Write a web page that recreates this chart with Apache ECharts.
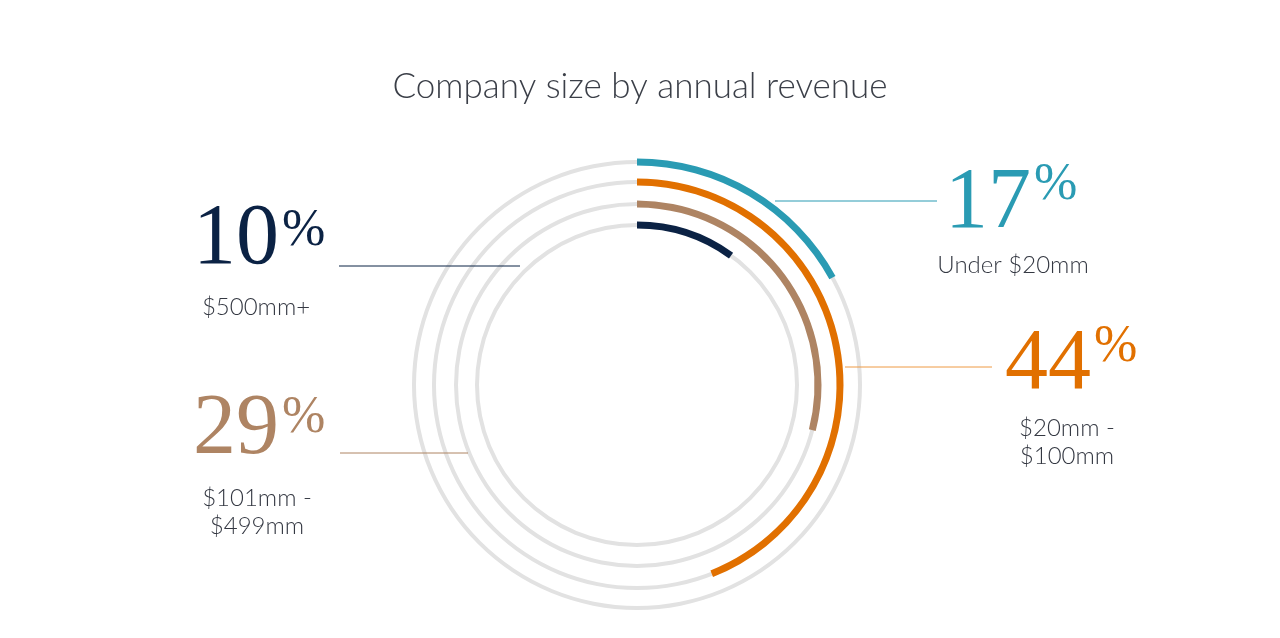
<!DOCTYPE html>
<html>
<head>
    <meta charset="utf-8">
    <title>Company size by annual revenue</title>
    <script src="https://cdn.jsdelivr.net/npm/echarts@6.0.0/dist/echarts.min.js"></script>
    <style>
        html, body { margin: 0; padding: 0; background: #fff; }
    </style>
</head>
<body>
    <div id="chart" style="width: 1280px;height:638px;"></div>

    <script>
        // rings from outside to inside
        const categories = ['Under $20mm', '$20mm -\n$100mm', '$101mm -\n$499mm', '$500mm+']
        const shares = [17, 44, 29, 10]
        const colors = ['#2a9bb3', '#e17000', '#ae8463', '#0b2244']
        const lineColors = ['#2a9bb3', '#ee9a45', '#ae8463', '#0b2244']
        const ringRadius = [223, 203, 181, 160]

        const cx = 637, cy = 385
        const sans = 'Lato, "Open Sans", "Noto Sans", sans-serif'
        const serif = '"Liberation Serif", "DejaVu Serif", serif'

        const series = []
        ringRadius.forEach((r, i) => {
            // grey track
            series.push({
                type: 'pie', silent: true, center: [cx, cy], radius: [r - 2, r + 2],
                label: { show: false }, labelLine: { show: false },
                itemStyle: { color: '#e2e2e2' },
                data: [{ value: 100 }]
            })
            // coloured share arc, clockwise from 12 o'clock
            series.push({
                type: 'pie', silent: true, center: [cx, cy], radius: [r - 3.5, r + 3.5],
                startAngle: 90, clockwise: true,
                label: { show: false }, labelLine: { show: false },
                data: [
                    { value: shares[i], itemStyle: { color: colors[i] } },
                    { value: 100 - shares[i], itemStyle: { color: 'transparent' } }
                ]
            })
        })

        // annotation layout (same order as the rings): number right edge / centre y,
        // percent top, sub label centre, leader line [x1, x2, y]
        const notes = [
            { nx: 1031, ny: 204, pTop: 167, sx: 1013, sy: 265, line: [775, 937, 201] },
            { nx: 1091, ny: 365, pTop: 329, sx: 1067, sy: 442, line: [845, 992, 367] },
            { nx: 279, ny: 430, pTop: 400, sx: 257, sy: 512, line: [340, 468, 453] },
            { nx: 279, ny: 240, pTop: 213, sx: 256, sy: 307, line: [339, 520, 266] }
        ]

        const graphic = []
        notes.forEach((n, i) => {
            graphic.push({
                type: 'line', z: 100,
                shape: { x1: n.line[0], y1: n.line[2], x2: n.line[1], y2: n.line[2] },
                style: { stroke: lineColors[i], lineWidth: 1 }
            })
            graphic.push({
                type: 'text', z: 100, x: n.nx, y: n.ny,
                style: {
                    text: String(shares[i]), fill: colors[i],
                    font: '86px ' + serif, align: 'right', verticalAlign: 'middle'
                }
            })
            graphic.push({
                type: 'text', z: 100, x: n.nx + 3, y: n.pTop - 8,
                style: {
                    text: '%', fill: colors[i],
                    font: '52px ' + serif, align: 'left', verticalAlign: 'top'
                }
            })
            graphic.push({
                type: 'text', z: 100, x: n.sx, y: n.sy,
                style: {
                    text: categories[i], fill: '#343842', lineHeight: 28,
                    font: '300 24px ' + sans, align: 'center', verticalAlign: 'middle'
                }
            })
        })

        const chart = echarts.init(document.getElementById('chart'))
        chart.setOption({
            animation: false,
            title: {
                text: 'Company size by annual revenue',
                left: 'center', top: 64,
                textStyle: { fontFamily: sans, fontWeight: 300, fontSize: 35, color: '#3b3f48' }
            },
            series: series,
            graphic: graphic
        })
    </script>
</body>
</html>
